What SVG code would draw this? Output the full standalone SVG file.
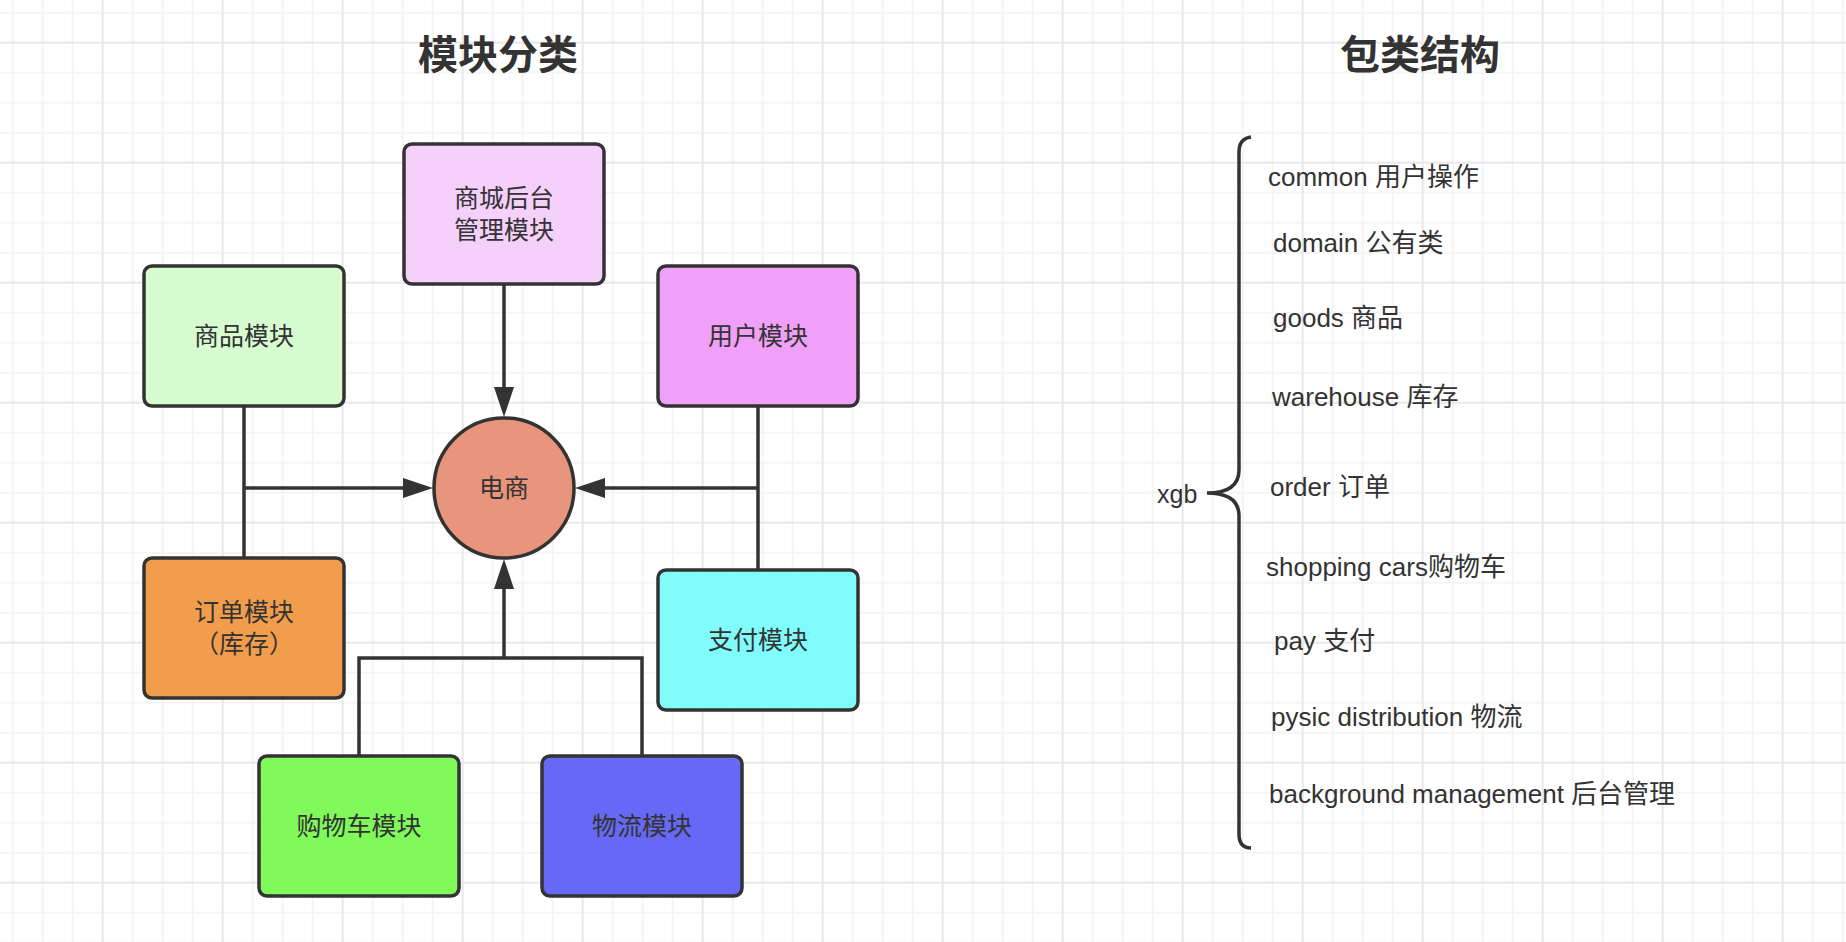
<svg xmlns="http://www.w3.org/2000/svg" width="1846" height="942" viewBox="0 0 1846 942">
<style>
text{font-family:"Liberation Sans","Noto Sans CJK SC",sans-serif;fill:#333;}
.t{font-size:40px;font-weight:bold;text-anchor:middle;dominant-baseline:central;}
.n{font-size:25px;text-anchor:middle;dominant-baseline:central;}
.l{font-size:26px;dominant-baseline:central;}
.box{stroke:#333;stroke-width:3.5;}
.ln{fill:none;stroke:#333;stroke-width:3.5;}
</style>
<defs>
<pattern id="grid" patternUnits="userSpaceOnUse" x="87.7" y="27.7" width="120" height="120">
<path d="M45,0V120M75,0V120M105,0V120M0,45H120M0,75H120M0,105H120" stroke="#f2f2f2" stroke-width="1.6" fill="none"/>
<path d="M15,0V120M0,15H120" stroke="#e8e8e8" stroke-width="2" fill="none"/>
</pattern>
<marker id="arr" viewBox="0 0 30 20" refX="1" refY="10" markerWidth="30" markerHeight="20" markerUnits="userSpaceOnUse" orient="auto">
<path d="M0,0L30,10L0,20z" fill="#333"/>
</marker>
</defs>
<rect width="1846" height="942" fill="#fff"/>
<rect width="1846" height="942" fill="url(#grid)"/>

<text class="t" x="498" y="55">模块分类</text>
<text class="t" x="1420" y="55">包类结构</text>

<g id="connectors">
<path class="ln" d="M504,284V388" marker-end="url(#arr)"/>
<path class="ln" d="M244,406V558"/>
<path class="ln" d="M244,488H404" marker-end="url(#arr)"/>
<path class="ln" d="M758,406V570"/>
<path class="ln" d="M758,488H604" marker-end="url(#arr)"/>
<path class="ln" d="M359,756V658H642V756"/>
<path class="ln" d="M504,658V588" marker-end="url(#arr)"/>
</g>

<g id="n-admin"><rect class="box" x="404" y="144" width="200" height="140" rx="8" fill="#F5D0FA"/><text class="n" x="504" y="198">商城后台</text><text class="n" x="504" y="230">管理模块</text></g>
<g id="n-goods"><rect class="box" x="144" y="266" width="200" height="140" rx="8" fill="#D6FCD0"/><text class="n" x="244" y="336">商品模块</text></g>
<g id="n-user"><rect class="box" x="658" y="266" width="200" height="140" rx="8" fill="#F0A0F8"/><text class="n" x="758" y="336">用户模块</text></g>
<g id="n-order"><rect class="box" x="144" y="558" width="200" height="140" rx="8" fill="#F29D4C"/><text class="n" x="244" y="612">订单模块</text><text class="n" x="244" y="644">（库存）</text></g>
<g id="n-pay"><rect class="box" x="658" y="570" width="200" height="140" rx="8" fill="#80FCFC"/><text class="n" x="758" y="640">支付模块</text></g>
<g id="n-cart"><rect class="box" x="259" y="756" width="200" height="140" rx="8" fill="#80F95A"/><text class="n" x="359" y="826">购物车模块</text></g>
<g id="n-logistics"><rect class="box" x="542" y="756" width="200" height="140" rx="8" fill="#6669F5"/><text class="n" x="642" y="826">物流模块</text></g>
<g id="n-ecom"><circle class="box" cx="504" cy="488" r="70" fill="#E8957D"/><text class="n" x="504" y="488">电商</text></g>

<g id="package">
<path class="ln" d="M1251,137C1243,138 1239,143 1239,152V470C1239,488 1225,493 1207,493C1225,493 1239,498 1239,516V834C1239,843 1243,848 1251,848"/>
<text class="l" x="1157" y="494" style="font-size:25px">xgb</text>
<text class="l" x="1268" y="177">common 用户操作</text>
<text class="l" x="1273" y="243">domain 公有类</text>
<text class="l" x="1273" y="318">goods 商品</text>
<text class="l" x="1272" y="397">warehouse 库存</text>
<text class="l" x="1270" y="487">order 订单</text>
<text class="l" x="1266" y="567">shopping cars购物车</text>
<text class="l" x="1274" y="641">pay 支付</text>
<text class="l" x="1271" y="717">pysic distribution 物流</text>
<text class="l" x="1269" y="794">background management 后台管理</text>
</g>
</svg>
